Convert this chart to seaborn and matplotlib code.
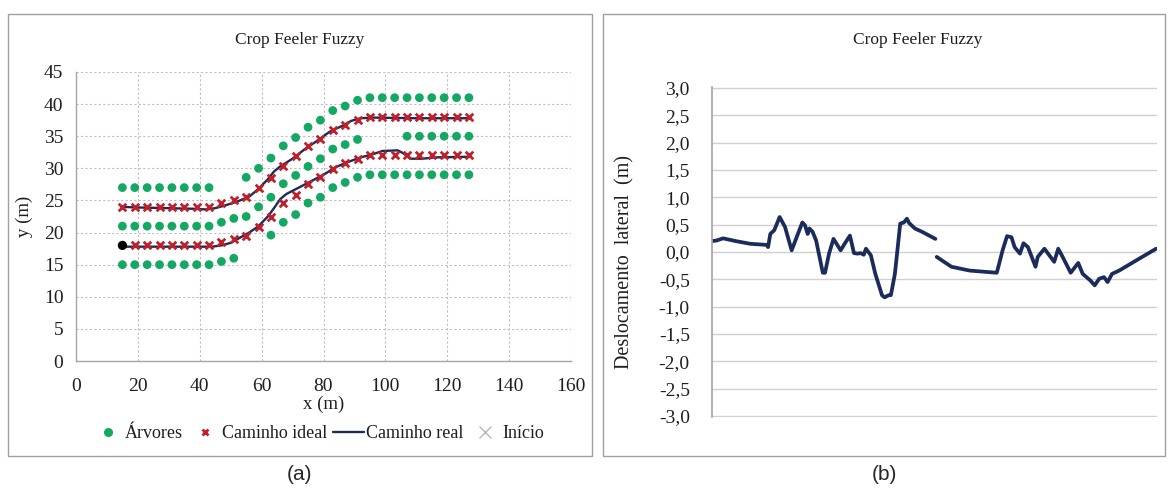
import numpy as np
import pandas as pd
import matplotlib
matplotlib.use("Agg")
import matplotlib.pyplot as plt
from matplotlib.patches import Rectangle
from matplotlib.lines import Line2D
import seaborn as sns

sns.set_theme(style="white")
plt.rcParams['font.family'] = ['Liberation Serif', 'DejaVu Serif']

# ---------------- Panel (a) data ----------------
tree_x = [15, 19, 23, 27, 31, 35, 39, 43,
          55, 59, 63, 67, 71, 75, 79, 83, 87, 91, 95, 99, 103, 107, 111, 115, 119, 123, 127,
          15, 19, 23, 27, 31, 35, 39, 43, 47, 51, 55, 59, 63, 67, 71, 75, 79, 83, 87, 91,
          107, 111, 115, 119, 123, 127,
          15, 19, 23, 27, 31, 35, 39, 43, 47, 51,
          63, 67, 71, 75, 79, 83, 87, 91, 95, 99, 103, 107, 111, 115, 119, 123, 127]
tree_y = [27, 27, 27, 27, 27, 27, 27, 27,
          28.6, 30.0, 31.6, 33.5, 34.8, 36.4, 37.5, 39.0, 39.7, 40.6, 41, 41, 41, 41, 41, 41, 41, 41, 41,
          21, 21, 21, 21, 21, 21, 21, 21, 21.6, 22.2, 22.5, 24.0, 25.5, 27.6, 28.9, 30.3, 31.5, 33.0, 33.7, 34.5,
          35, 35, 35, 35, 35, 35,
          15, 15, 15, 15, 15, 15, 15, 15, 15.5, 16.0,
          19.6, 21.6, 22.8, 24.6, 25.5, 27.0, 27.8, 28.6, 29, 29, 29, 29, 29, 29, 29, 29, 29]

ideal_x = [15, 19, 23, 27, 31, 35, 39, 43, 47, 51, 55, 59, 63, 67, 71, 75, 79, 83, 87, 91,
           95, 99, 103, 107, 111, 115, 119, 123, 127,
           19, 23, 27, 31, 35, 39, 43, 47, 51, 55, 59, 63, 67, 71, 75, 79, 83, 87, 91,
           95, 99, 103, 107, 111, 115, 119, 123, 127]
ideal_y = [24, 24, 24, 24, 24, 24, 24, 24, 24.6, 25.1, 25.5, 26.9, 28.5, 30.4, 31.9, 33.5, 34.6, 36.0, 36.7, 37.5,
           38, 38, 38, 38, 38, 38, 38, 38, 38,
           18, 18, 18, 18, 18, 18, 18, 18.5, 19.0, 19.5, 20.9, 22.5, 24.6, 25.8, 27.6, 28.6, 29.9, 30.8, 31.5,
           32, 32, 32, 32, 32, 32, 32, 32, 32]

real_upper_x = [15, 20, 30, 38, 42, 45, 48, 52, 56, 59, 62, 64, 66, 70, 74, 78, 82, 86, 89, 92, 96, 110, 127]
real_upper_y = [24.0, 23.9, 23.8, 23.7, 23.6, 23.8, 24.2, 24.8, 25.6, 26.8, 28.3, 29.5, 30.3, 31.5, 33.0,
                34.3, 35.7, 36.6, 37.4, 37.8, 37.9, 37.8, 37.8]
real_lower_x = [15, 30, 44, 47, 50, 53, 56, 59, 62, 64, 66, 68, 72, 76, 80, 84, 88, 92, 96, 99, 104, 106,
                108, 112, 116, 127]
real_lower_y = [17.8, 17.8, 17.8, 18.0, 18.4, 19.2, 20.0, 21.0, 22.5, 23.8, 25.2, 26.0, 27.0, 28.0, 29.0,
                30.2, 31.0, 31.7, 32.2, 32.7, 32.8, 32.3, 31.5, 31.5, 31.7, 31.8]

start_x = [15]
start_y = [18]

x_ticks_a = [0, 20, 40, 60, 80, 100, 120, 140, 160]
y_ticks_a = [0, 5, 10, 15, 20, 25, 30, 35, 40, 45]

# ---------------- Panel (b) data ----------------
seg1_x = [0, 10, 25, 53, 86, 123, 126, 131, 140, 152, 164, 179, 193, 203, 209, 215, 219, 226, 234, 249,
          254, 263, 273, 280, 289, 298, 310, 319, 327, 334, 341, 346, 357, 367, 382, 388, 397, 402, 411,
          423, 431, 438, 443, 456, 472, 502]
seg1_y = [0.20, 0.21, 0.25, 0.20, 0.15, 0.13, 0.09, 0.33, 0.40, 0.64, 0.46, 0.03, 0.33, 0.54, 0.49, 0.33,
          0.43, 0.37, 0.21, -0.38, -0.38, -0.03, 0.24, 0.15, 0.03, 0.15, 0.30, -0.02, -0.03, -0.02, -0.05,
          0.06, -0.06, -0.40, -0.79, -0.83, -0.79, -0.79, -0.40, 0.52, 0.54, 0.61, 0.53, 0.43, 0.37, 0.24]
seg2_x = [505, 538, 579, 640, 653, 663, 673, 680, 692, 700, 710, 727, 732, 747, 769, 778, 788, 806, 823,
          833, 850, 860, 870, 881, 889, 899, 915, 948, 998]
seg2_y = [-0.09, -0.27, -0.34, -0.38, 0.03, 0.29, 0.27, 0.09, -0.03, 0.16, 0.09, -0.27, -0.09, 0.06,
          -0.18, 0.06, -0.09, -0.38, -0.20, -0.40, -0.52, -0.61, -0.49, -0.46, -0.55, -0.40, -0.34, -0.18, 0.06]
y_ticks_b = [-3.0, -2.5, -2.0, -1.5, -1.0, -0.5, 0.0, 0.5, 1.0, 1.5, 2.0, 2.5, 3.0]

GREEN = "#14a862"
RED = "#c0202a"
NAVY = "#1b2b5a"
GRID = "#bfbfbf"
SPINE = "#a6a6a6"
TXT = "#1e1e1e"

W, H = 1173, 491
fig = plt.figure(figsize=(W / 100, H / 100), dpi=100)

# panel frames
for (x0, x1) in [(8, 592), (603, 1165)]:
    fig.patches.append(Rectangle((x0 / W, 1 - 456 / H), (x1 - x0) / W, (456 - 14) / H,
                                 transform=fig.transFigure, fill=False,
                                 edgecolor="#a0a0a0", linewidth=1.0))

# ---------- Panel (a) ----------
axA = fig.add_axes([76 / W, 1 - 361 / H, (571 - 76) / W, (361 - 72) / H])
df_tree = pd.DataFrame({"x": tree_x, "y": tree_y})
df_ideal = pd.DataFrame({"x": ideal_x, "y": ideal_y})
df_real = pd.DataFrame({"x": real_upper_x + real_lower_x,
                        "y": real_upper_y + real_lower_y,
                        "seg": ["u"] * len(real_upper_x) + ["l"] * len(real_lower_x)})

sns.scatterplot(data=df_tree, x="x", y="y", ax=axA, color=GREEN, s=40, edgecolor="none",
                marker="o", zorder=3, legend=False)
sns.lineplot(data=df_real, x="x", y="y", units="seg", estimator=None, sort=False, ax=axA,
             color=NAVY, linewidth=1.7, zorder=4, legend=False)
sns.scatterplot(data=df_ideal, x="x", y="y", ax=axA, color=RED, s=30, marker="x",
                linewidth=2.0, zorder=5, legend=False)
sns.scatterplot(x=start_x, y=start_y, ax=axA, color="black", s=45, edgecolor="none",
                zorder=6, legend=False)

axA.set_xlim(0, 160)
axA.set_ylim(0, 45)
axA.set_xticks(x_ticks_a)
axA.set_yticks(y_ticks_a)
axA.grid(True, linestyle=(0, (2, 2)), color=GRID, linewidth=0.8)
axA.set_axisbelow(True)
for s in ["top", "right"]:
    axA.spines[s].set_visible(False)
for s in ["left", "bottom"]:
    axA.spines[s].set_color(SPINE)
    axA.spines[s].set_linewidth(1.0)
axA.tick_params(axis="x", length=0, labelsize=14, pad=12, colors=TXT)
axA.tick_params(axis="y", length=0, labelsize=14, pad=9, colors=TXT)
axA.set_xlabel("x (m)", fontsize=13.5, labelpad=1, color=TXT)
axA.set_ylabel("y (m)", fontsize=13.5, labelpad=8, color=TXT)
fig.text(300 / W, 1 - 40 / H, "Crop Feeler Fuzzy", ha="center", va="center",
         fontsize=12.5, color=TXT)

handles = [
    Line2D([], [], linestyle="none", marker="o", color=GREEN, markersize=5.5),
    Line2D([], [], linestyle="none", marker="x", color=RED, markersize=5, markeredgewidth=2.0),
    Line2D([], [], color=NAVY, linewidth=1.7),
    Line2D([], [], linestyle="none", marker="x", color="#b0b0b0", markersize=8, markeredgewidth=0.9),
]
labels = ["Árvores", "Caminho ideal", "Caminho real", "Início"]
fig.legend(handles, labels, loc="center", bbox_to_anchor=(318 / W, 1 - 434 / H), ncol=4,
           frameon=False, fontsize=13, handlelength=1.7, handletextpad=0.1, columnspacing=0.35,
           labelcolor=TXT, borderpad=0.1)

# ---------- Panel (b) ----------
axB = fig.add_axes([712 / W, 1 - 417 / H, (1157 - 712) / W, (417 - 87) / H])
df_b = pd.DataFrame({"x": seg1_x + seg2_x, "y": seg1_y + seg2_y,
                     "seg": [1] * len(seg1_x) + [2] * len(seg2_x)})
sns.lineplot(data=df_b, x="x", y="y", units="seg", estimator=None, sort=False, ax=axB,
             color=NAVY, linewidth=2.7, legend=False)
axB.set_xlim(0, 1000)
axB.set_ylim(-3.02, 3.02)
axB.set_yticks(y_ticks_b)
axB.set_yticklabels([f"{v:.1f}".replace(".", ",") for v in y_ticks_b])
axB.set_xticks([])
axB.yaxis.grid(True, color="#d0d0d0", linewidth=1.0)
axB.set_axisbelow(True)
for s in ["top", "right", "bottom"]:
    axB.spines[s].set_visible(False)
axB.spines["left"].set_color(SPINE)
axB.tick_params(axis="y", length=0, labelsize=14, pad=16, colors=TXT)
axB.set_xlabel("")
axB.set_ylabel("Deslocamento  lateral  (m)", fontsize=14.5, color=TXT)
axB.yaxis.set_label_coords((634 - 712) / 445, 0.47)
fig.text(918 / W, 1 - 40 / H, "Crop Feeler Fuzzy", ha="center", va="center",
         fontsize=12.5, color=TXT)

# panel labels
fig.text(300 / W, 1 - 474 / H, "(a)", ha="center", va="center", fontsize=15,
         family=["Liberation Sans", "DejaVu Sans"])
fig.text(884 / W, 1 - 474 / H, "(b)", ha="center", va="center", fontsize=15,
         family=["Liberation Sans", "DejaVu Sans"])

fig.savefig("out.png", dpi=100)
